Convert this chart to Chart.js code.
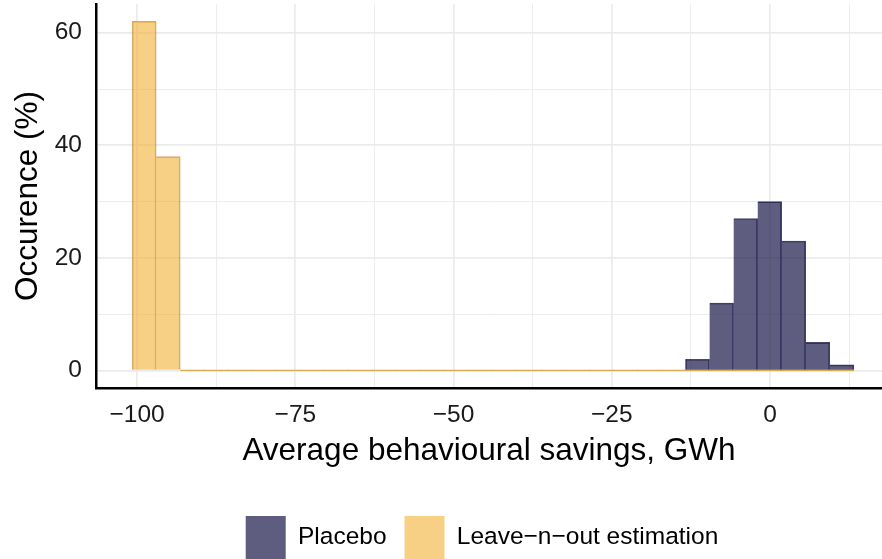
<!DOCTYPE html>
<html>
<head>
<meta charset="utf-8">
<script src="https://cdn.jsdelivr.net/npm/chart.js@4.4.1/dist/chart.umd.min.js"></script>
<style>
    html, body { margin: 0; padding: 0; background: #fff; }
    #wrap { width: 882px; height: 559px; }
</style>
</head>
<body>
<div id="wrap"><canvas id="histChart" width="882" height="559"></canvas></div>
<script>
// Centres of the 30 histogram bins, GWh
const binCenters = [
    -98.89, -95.09, -91.29, -87.49, -83.69, -79.88, -76.08, -72.28, -68.48, -64.68,
    -60.88, -57.07, -53.27, -49.47, -45.67, -41.87, -38.06, -34.26, -30.46, -26.66,
    -22.86, -19.06, -15.25, -11.45, -7.65, -3.85, -0.05, 3.75, 7.55, 11.36
];

// Occurence (%) per bin
const placeboPct = [
    0, 0, 0, 0, 0, 0, 0, 0, 0, 0,
    0, 0, 0, 0, 0, 0, 0, 0, 0, 0,
    0, 0, 0, 2, 12, 27, 30, 23, 5, 1
];
const leaveOutPct = [
    62, 38, 0, 0, 0, 0, 0, 0, 0, 0,
    0, 0, 0, 0, 0, 0, 0, 0, 0, 0,
    0, 0, 0, 0, 0, 0, 0, 0, 0, 0
];

const seriesNames = ['Placebo', 'Leave\u2212n\u2212out estimation'];

// Grid positions (major + minor) and the ones that get a label
const xGridValues = [-100, -87.5, -75, -62.5, -50, -37.5, -25, -12.5, 0, 12.5];
const xLabelValues = [-100, -75, -50, -25, 0];
const yGridValues = [0, 10, 20, 30, 40, 50, 60];
const yLabelValues = [0, 20, 40, 60];

Chart.defaults.font.family = '"Liberation Sans", Arial, Helvetica, sans-serif';
Chart.defaults.color = '#1a1a1a';

const toPoints = values => binCenters.map((x, i) => ({ x: x, y: values[i] }));
const minusSign = v => (v < 0 ? '\u2212' + Math.abs(v) : String(v));
const gridWidth = (c, majors) => {
    if (!c || !c.tick) return 1;
    return majors.includes(c.tick.value) ? 1.7 : 0.9;
};
// one outline between neighbouring bars, like the R histogram
const edgeWidths = values => c => {
    const i = c.dataIndex;
    const shared = i > 0 && values[i - 1] > 0;
    return { top: 1, right: 1, bottom: 0, left: shared ? 0 : 1 };
};

// nudge the legend a little left, it sits slightly off the panel centre
const legendShift = {
    id: 'legendShift',
    afterLayout(chart) {
        if (chart.legend) {
            chart.legend.left -= 7;
            chart.legend.right -= 7;
        }
    }
};

const ctx = document.getElementById('histChart');
new Chart(ctx, {
    type: 'bar',
    data: {
        datasets: [
            {
                label: seriesNames[0],
                data: toPoints(placeboPct),
                backgroundColor: 'rgba(26, 24, 72, 0.7)',
                borderColor: 'rgba(26, 24, 72, 0.8)',
                borderWidth: edgeWidths(placeboPct),
                borderSkipped: false,
                minBarLength: 0,
                grouped: false,
                barPercentage: 1,
                categoryPercentage: 1
            },
            {
                label: seriesNames[1],
                data: toPoints(leaveOutPct),
                backgroundColor: 'rgba(242, 177, 52, 0.6)',
                borderColor: 'rgba(190, 135, 55, 0.7)',
                borderWidth: edgeWidths(leaveOutPct),
                borderSkipped: false,
                minBarLength: 1.5,
                grouped: false,
                barPercentage: 1,
                categoryPercentage: 1
            }
        ]
    },
    plugins: [legendShift],
    options: {
        responsive: false,
        animation: false,
        layout: { padding: { top: 4, right: 0, left: 0, bottom: -10 } },
        plugins: {
            tooltip: { enabled: false },
            legend: {
                position: 'bottom',
                fullSize: false,
                labels: {
                    boxWidth: 40,
                    boxHeight: 43,
                    padding: 18,
                    color: '#000',
                    font: { size: 24.5 },
                    generateLabels(chart) {
                        const items = Chart.defaults.plugins.legend.labels.generateLabels(chart);
                        items.forEach(item => {
                            item.lineWidth = 0;
                            item.strokeStyle = 'rgba(0,0,0,0)';
                        });
                        return items;
                    }
                }
            }
        },
        scales: {
            x: {
                type: 'linear',
                offset: false,
                min: -106.5,
                max: 17.7,
                afterBuildTicks: axis => { axis.ticks = xGridValues.map(v => ({ value: v })); },
                afterFit: axis => {
                    axis.height = 110;
                    axis.paddingLeft = 0;
                    axis.paddingRight = 0;
                },
                grid: {
                    offset: false,
                    color: '#ebebeb',
                    lineWidth: c => gridWidth(c, xLabelValues),
                    drawTicks: false
                },
                border: { display: true, color: '#000', width: 2.5 },
                ticks: {
                    padding: 13,
                    maxRotation: 0,
                    autoSkip: false,
                    font: { size: 24.5 },
                    color: '#1a1a1a',
                    callback: v => (xLabelValues.includes(v) ? minusSign(v) : '')
                },
                title: {
                    display: true,
                    text: 'Average behavioural savings, GWh',
                    color: '#000',
                    font: { size: 31.5 },
                    padding: { top: 0, bottom: 28 }
                }
            },
            y: {
                type: 'linear',
                min: -3.1,
                max: 65.1,
                afterBuildTicks: axis => { axis.ticks = yGridValues.map(v => ({ value: v })); },
                afterFit: axis => {
                    axis.width = 96;
                    axis.paddingTop = 0;
                    axis.paddingBottom = 0;
                },
                grid: {
                    color: '#ebebeb',
                    lineWidth: c => gridWidth(c, yLabelValues),
                    drawTicks: false
                },
                border: { display: true, color: '#000', width: 2.5 },
                ticks: {
                    padding: 14,
                    autoSkip: false,
                    font: { size: 24.5 },
                    color: '#1a1a1a',
                    callback: v => (yLabelValues.includes(v) ? String(v) : '')
                },
                title: {
                    display: true,
                    text: 'Occurence (%)',
                    color: '#000',
                    font: { size: 31.5 },
                    padding: { top: 9, bottom: 0 }
                }
            }
        }
    }
});
</script>
</body>
</html>
